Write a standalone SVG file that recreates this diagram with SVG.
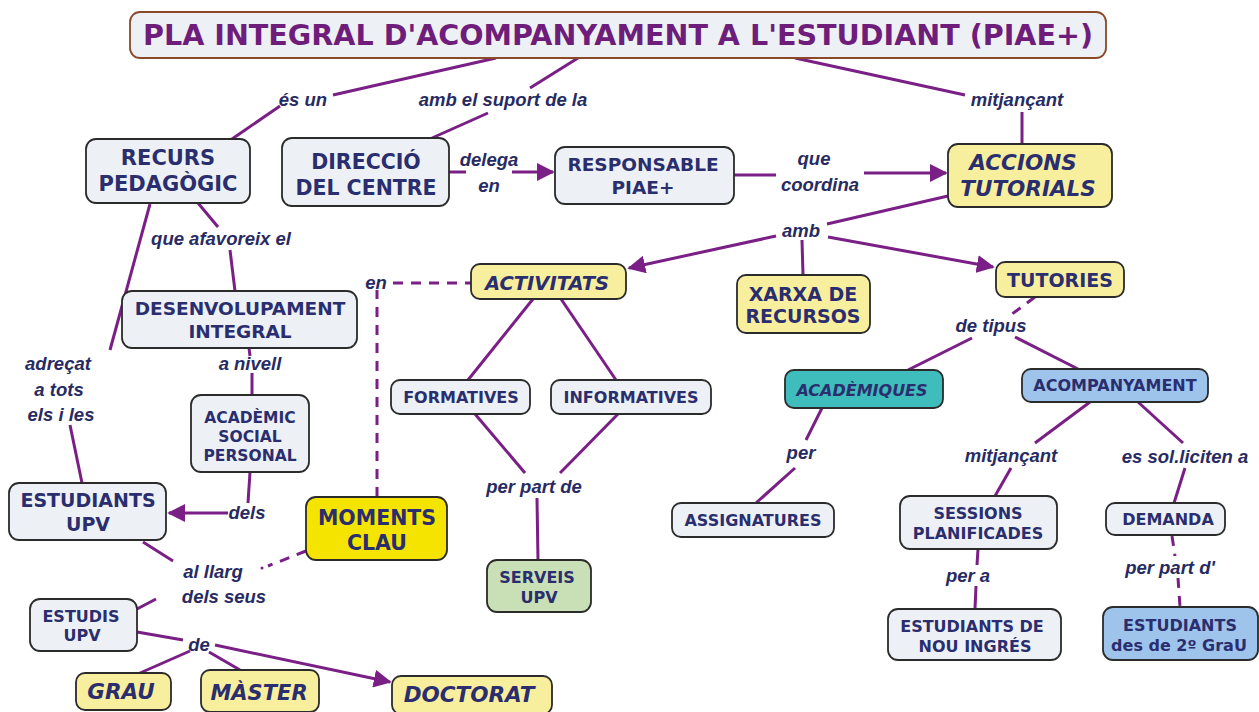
<svg xmlns="http://www.w3.org/2000/svg" width="1259" height="712" viewBox="0 0 1259 712">
<style>
.bx{fill:#edf1f5;stroke:#2b2b2b;stroke-width:1.8}
.y{fill:#f8ef9e}
.yy{fill:#f4e400}
.tl{fill:#3fbcbc}
.bl{fill:#9ec4ec}
.gr{fill:#c9e0b6}
.nt{font-family:"DejaVu Sans",sans-serif;font-weight:bold;fill:#2b2e6e;text-anchor:middle}
.it{font-style:italic}
.lb{font-family:"Liberation Sans",Arial,sans-serif;font-weight:bold;font-style:italic;fill:#282b62;text-anchor:middle;font-size:18.5px}
.ln{fill:none;stroke:#7a1f85;stroke-width:3}
.ds{stroke-dasharray:10 8}
</style>
<defs>
<marker id="ah" viewBox="0 0 10 10" refX="9" refY="5" markerWidth="6" markerHeight="6" markerUnits="strokeWidth" orient="auto"><path d="M0,0 L10,5 L0,10 z" fill="#7a1f85"/></marker>
</defs>
<rect width="1259" height="712" fill="#ffffff"/>

<g id="connectors">
<path class="ln" d="M496,58 L333,95"/>
<path class="ln" d="M280,106 L232,139"/>
<path class="ln" d="M578,58 L530,88"/>
<path class="ln" d="M488,113 L432,138"/>
<path class="ln" d="M795,58 L965,95"/>
<path class="ln" d="M1022,112 L1022,144"/>
<path class="ln" d="M449,172 L466,172"/>
<path class="ln" d="M512,172 L553,172" marker-end="url(#ah)"/>
<path class="ln" d="M734,175 L776,175"/>
<path class="ln" d="M864,173 L946,173" marker-end="url(#ah)"/>
<path class="ln" d="M948,196 L827,224"/>
<path class="ln" d="M776,236 L629,268" marker-end="url(#ah)"/>
<path class="ln" d="M802,240 L803,275"/>
<path class="ln" d="M828,237 L993,267" marker-end="url(#ah)"/>
<path class="ln" d="M198,203 L218,227"/>
<path class="ln" d="M230,250 L235,291"/>
<path class="ln" d="M150,204 L110,350"/>
<path class="ln" d="M70,425 L82,483"/>
<path class="ln" d="M249,348 L250,356"/>
<path class="ln" d="M252,373 L252,395"/>
<path class="ln" d="M250,472 L248,503"/>
<path class="ln" d="M228,513 L169,513" marker-end="url(#ah)"/>
<path class="ln" d="M143,542 L173,561"/>
<path class="ln ds" d="M306,551 L268,566"/>
<circle cx="262" cy="568" r="1.5" fill="#7a1f85"/>
<path class="ln" d="M156,599 L137,609"/>
<path class="ln" d="M137,632 L183,640"/>
<path class="ln" d="M215,645 L390,682" marker-end="url(#ah)"/>
<path class="ln" d="M190,651 L140,673"/>
<path class="ln" d="M209,652 L240,670"/>
<path class="ln ds" d="M377,497 L377,290"/>
<path class="ln ds" d="M393,283 L471,283"/>
<path class="ln" d="M533,299 L468,380"/>
<path class="ln" d="M561,299 L616,380"/>
<path class="ln" d="M475,414 L525,473"/>
<path class="ln" d="M618,414 L560,473"/>
<path class="ln" d="M537,498 L538,560"/>
<path class="ln ds" d="M1035,297 L1008,317"/>
<path class="ln" d="M972,338 L908,370"/>
<path class="ln" d="M1015,337 L1078,369"/>
<path class="ln" d="M822,408 L806,440"/>
<path class="ln" d="M795,468 L756,503"/>
<path class="ln" d="M1090,402 L1035,443"/>
<path class="ln" d="M1011,468 L995,496"/>
<path class="ln" d="M1138,402 L1183,443"/>
<path class="ln" d="M1185,468 L1174,503"/>
<path class="ln" d="M978,549 L977,565"/>
<path class="ln" d="M976,586 L975,609"/>
<path class="ln ds" d="M1172,536 L1175,556"/>
<path class="ln ds" d="M1178,578 L1180,607"/>
</g>

<g id="labels">
<text class="lb" x="303" y="106">és un</text>
<text class="lb" x="503" y="106">amb el suport de la</text>
<text class="lb" x="1017" y="106">mitjançant</text>
<text class="lb" x="489" y="166">delega</text>
<text class="lb" x="489" y="192">en</text>
<text class="lb" x="814" y="165">que</text>
<text class="lb" x="820" y="191">coordina</text>
<text class="lb" x="801" y="237">amb</text>
<text class="lb" x="221" y="245">que afavoreix el</text>
<text class="lb" x="376" y="289">en</text>
<text class="lb" x="58" y="370">adreçat</text>
<text class="lb" x="59" y="396">a tots</text>
<text class="lb" x="61" y="421">els i les</text>
<text class="lb" x="250" y="370">a nivell</text>
<text class="lb" x="247" y="519">dels</text>
<text class="lb" x="213" y="578">al llarg</text>
<text class="lb" x="224" y="603">dels seus</text>
<text class="lb" x="199" y="651">de</text>
<text class="lb" x="534" y="493">per part de</text>
<text class="lb" x="991" y="332">de tipus</text>
<text class="lb" x="801" y="459">per</text>
<text class="lb" x="1011" y="462">mitjançant</text>
<text class="lb" x="1185" y="463">es sol.liciten a</text>
<text class="lb" x="968" y="582">per a</text>
<text class="lb" x="1170" y="574">per part d'</text>
</g>

<g id="title">
<rect x="130" y="12" width="976" height="46" rx="10" fill="#edf1f5" stroke="#8a4a2a" stroke-width="1.8"/>
<text x="618" y="45" font-family="DejaVu Sans,sans-serif" font-weight="bold" font-size="28" fill="#6f1d7a" text-anchor="middle" textLength="950" lengthAdjust="spacingAndGlyphs">PLA INTEGRAL D'ACOMPANYAMENT A L'ESTUDIANT (PIAE+)</text>
</g>

<g id="recurs"><rect class="bx" x="86" y="139" width="164" height="64" rx="10"/>
<text class="nt" font-size="21" x="168" y="165">RECURS</text><text class="nt" font-size="21" x="168" y="191">PEDAGÒGIC</text></g>

<g id="direccio"><rect class="bx" x="282" y="138" width="167" height="68" rx="10"/>
<text class="nt" font-size="20.5" x="366" y="169">DIRECCIÓ</text><text class="nt" font-size="20.5" x="366" y="195">DEL CENTRE</text></g>

<g id="responsable"><rect class="bx" x="555" y="147" width="179" height="57" rx="10"/>
<text class="nt" font-size="18.5" x="643" y="171">RESPONSABLE</text><text class="nt" font-size="18.5" x="643" y="194">PIAE+</text></g>

<g id="accions"><rect class="bx y" x="948" y="144" width="164" height="63" rx="10"/>
<text class="nt it" font-size="21.5" x="1023" y="170">ACCIONS</text><text class="nt it" font-size="21.5" x="1028" y="196">TUTORIALS</text></g>

<g id="activitats"><rect class="bx y" x="471" y="264" width="155" height="35" rx="9"/>
<text class="nt it" font-size="19.5" x="547" y="290">ACTIVITATS</text></g>

<g id="xarxa"><rect class="bx y" x="737" y="275" width="133" height="58" rx="9"/>
<text class="nt" font-size="19" x="803" y="301">XARXA DE</text><text class="nt" font-size="19" x="803" y="323">RECURSOS</text></g>

<g id="tutories"><rect class="bx y" x="996" y="262" width="128" height="35" rx="9"/>
<text class="nt" font-size="19" x="1060" y="287">TUTORIES</text></g>

<g id="desenvolupament"><rect class="bx" x="122" y="291" width="235" height="57" rx="10"/>
<text class="nt" font-size="18.5" x="240" y="315">DESENVOLUPAMENT</text><text class="nt" font-size="18.5" x="240" y="338">INTEGRAL</text></g>

<g id="academic"><rect class="bx" x="191" y="395" width="118" height="77" rx="10"/>
<text class="nt" font-size="15.5" x="250" y="423">ACADÈMIC</text><text class="nt" font-size="15.5" x="250" y="442">SOCIAL</text><text class="nt" font-size="15.5" x="250" y="461">PERSONAL</text></g>

<g id="formatives"><rect class="bx" x="391" y="380" width="139" height="34" rx="9"/>
<text class="nt" font-size="16" x="461" y="403">FORMATIVES</text></g>

<g id="informatives"><rect class="bx" x="551" y="380" width="160" height="34" rx="9"/>
<text class="nt" font-size="16" x="631" y="403">INFORMATIVES</text></g>

<g id="academiques"><rect class="bx tl" x="785" y="370" width="158" height="38" rx="9"/>
<text class="nt it" font-size="16" x="862" y="396">ACADÈMIQUES</text></g>

<g id="acompanyament"><rect class="bx bl" x="1022" y="369" width="186" height="33" rx="9"/>
<text class="nt" font-size="16" x="1115" y="391">ACOMPANYAMENT</text></g>

<g id="estudiants-upv"><rect class="bx" x="9" y="483" width="157" height="57" rx="10"/>
<text class="nt" font-size="19" x="88" y="507">ESTUDIANTS</text><text class="nt" font-size="19" x="88" y="531">UPV</text></g>

<g id="moments"><rect class="bx yy" x="306" y="497" width="141" height="63" rx="10"/>
<text class="nt" font-size="20.5" x="377" y="525">MOMENTS</text><text class="nt" font-size="20.5" x="377" y="550">CLAU</text></g>

<g id="assignatures"><rect class="bx" x="672" y="503" width="162" height="34" rx="9"/>
<text class="nt" font-size="16" x="753" y="526">ASSIGNATURES</text></g>

<g id="sessions"><rect class="bx" x="900" y="496" width="157" height="53" rx="10"/>
<text class="nt" font-size="16" x="978" y="519">SESSIONS</text><text class="nt" font-size="16" x="978" y="539">PLANIFICADES</text></g>

<g id="demanda"><rect class="bx" x="1106" y="503" width="119" height="32" rx="9"/>
<text class="nt" font-size="16" x="1168" y="525">DEMANDA</text></g>

<g id="serveis"><rect class="bx gr" x="487" y="560" width="104" height="52" rx="10"/>
<text class="nt" font-size="16" x="537" y="583">SERVEIS</text><text class="nt" font-size="16" x="539" y="603">UPV</text></g>

<g id="nou-ingres"><rect class="bx" x="888" y="609" width="173" height="51" rx="10"/>
<text class="nt" font-size="16" x="972" y="632">ESTUDIANTS DE</text><text class="nt" font-size="16" x="975" y="652">NOU INGRÉS</text></g>

<g id="segon-grau"><rect class="bx bl" x="1103" y="607" width="155" height="53" rx="10"/>
<text class="nt" font-size="16" x="1180" y="631">ESTUDIANTS</text><text class="nt" font-size="16" x="1179" y="651">des de 2º GraU</text></g>

<g id="estudis"><rect class="bx" x="30" y="599" width="107" height="52" rx="10"/>
<text class="nt" font-size="16" x="81" y="622">ESTUDIS</text><text class="nt" font-size="16" x="82" y="641">UPV</text></g>

<g id="grau"><rect class="bx y" x="76" y="673" width="95" height="37" rx="9"/>
<text class="nt it" font-size="21.5" x="121" y="699">GRAU</text></g>

<g id="master"><rect class="bx y" x="201" y="670" width="118" height="42" rx="9"/>
<text class="nt it" font-size="21" x="259" y="700">MÀSTER</text></g>

<g id="doctorat"><rect class="bx y" x="392" y="676" width="160" height="38" rx="9"/>
<text class="nt it" font-size="21.5" x="469" y="702">DOCTORAT</text></g>
</svg>
